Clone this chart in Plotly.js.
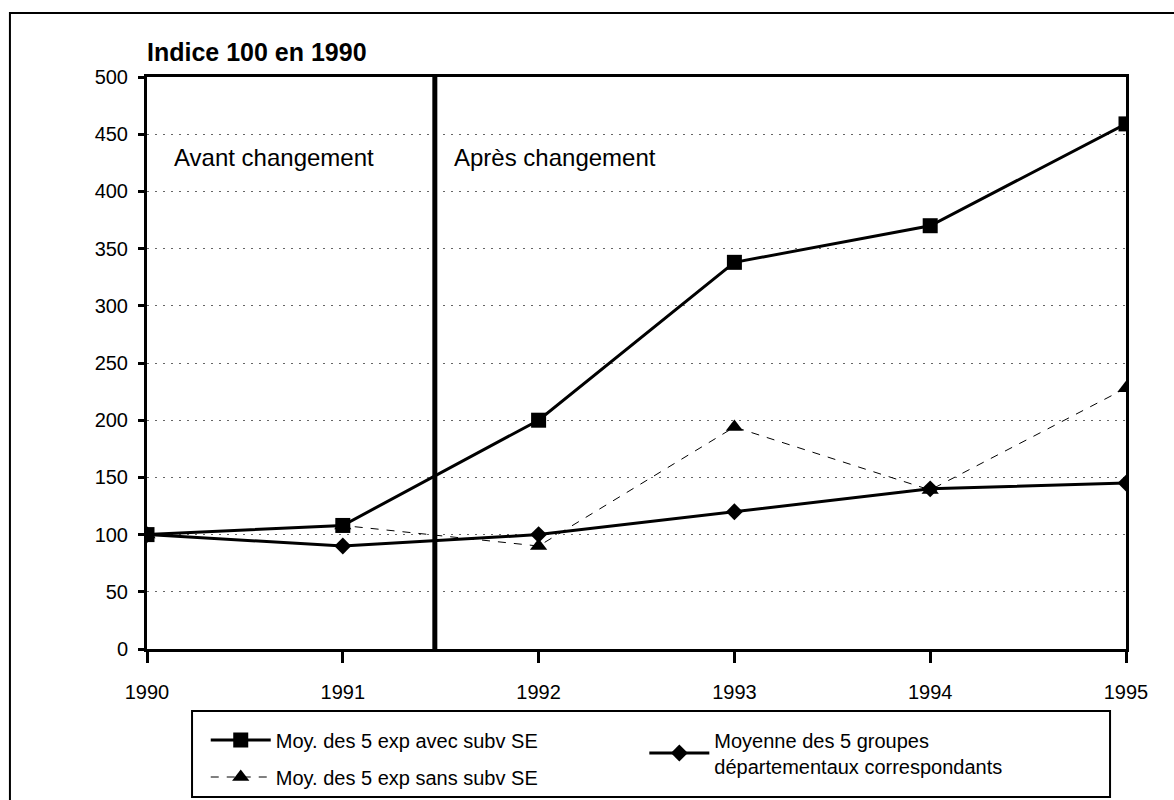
<!DOCTYPE html>
<html>
<head>
<meta charset="utf-8">
<script src="https://cdn.plot.ly/plotly-3.0.1.min.js"></script>
<style>html,body{margin:0;padding:0;background:#fff;}#chart{width:1174px;height:800px;}</style>
</head>
<body>
<div id="chart"></div>
<script>
const years = [1990, 1991, 1992, 1993, 1994, 1995];
const avecSubv = [100, 108, 200, 338, 370, 459];
const sansSubv = [100, 108, 90, 194, 139, 228];
const groupes = [100, 90, 100, 120, 140, 145];
const yTicks = [0, 50, 100, 150, 200, 250, 300, 350, 400, 450, 500];
const changementYear = 1991.47;
const labelAvec = "Moy. des 5 exp avec subv SE";
const labelSans = "Moy. des 5 exp sans subv SE";
const labelGroupes = "Moyenne des 5 groupes<br>départementaux correspondants";
const titleText = "Indice 100 en 1990";
const avantText = "Avant changement";
const apresText = "Après changement";

const FONT = "Liberation Sans, Arial, sans-serif";

const traces = [
  {
    x: years, y: sansSubv, name: labelSans, mode: "lines+markers", legend: "legend",
    legendgroup: "b", legendrank: 2,
    line: {color: "#000", width: 1, dash: "8px,8px"},
    marker: {symbol: "triangle-up", size: 15, color: "#000"}
  },
  {
    x: years, y: groupes, name: labelGroupes, mode: "lines+markers", legend: "legend2",
    line: {color: "#000", width: 3},
    marker: {symbol: "diamond", size: 13, color: "#000"}
  },
  {
    x: years, y: avecSubv, name: labelAvec, mode: "lines+markers", legend: "legend",
    legendgroup: "a", legendrank: 1,
    line: {color: "#000", width: 3},
    marker: {symbol: "square", size: 15, color: "#000"}
  }
];

const layout = {
  width: 1174, height: 800,
  margin: {l: 147, r: 48, t: 77, b: 151, autoexpand: false},
  paper_bgcolor: "#fff", plot_bgcolor: "#fff",
  font: {family: FONT, color: "#000", size: 20},
  showlegend: true,
  title: {
    text: "<b>" + titleText + "</b>",
    font: {family: FONT, size: 25, color: "#000"},
    xref: "paper", x: 0, xanchor: "left",
    yref: "container", y: 1 - 52/800, yanchor: "middle"
  },
  xaxis: {
    range: [1990, 1995], tickvals: years, ticktext: years.map(String),
    showgrid: false, zeroline: false,
    showline: true, linecolor: "#000", linewidth: 3, mirror: true,
    ticks: "outside", ticklen: 11, tickwidth: 3, tickcolor: "#000",
    ticklabelstandoff: 12,
    tickfont: {family: FONT, size: 20, color: "#000"}
  },
  yaxis: {
    range: [0, 500], tickvals: yTicks,
    showgrid: true, gridcolor: "#666", gridwidth: 1, griddash: "2px,6px",
    zeroline: false,
    showline: true, linecolor: "#000", linewidth: 3, mirror: true,
    ticks: "outside", ticklen: 6, tickwidth: 3, tickcolor: "#000",
    ticklabelstandoff: 6,
    tickfont: {family: FONT, size: 20, color: "#000"}
  },
  legend: {
    x: 0.06, xanchor: "left", y: -0.125, yanchor: "top",
    orientation: "v", tracegroupgap: 8, traceorder: "grouped",
    bgcolor: "rgba(0,0,0,0)", borderwidth: 0, itemwidth: 60,
    font: {family: FONT, size: 20, color: "#000"}
  },
  legend2: {
    x: 0.508, xanchor: "left", y: -0.125, yanchor: "top",
    bgcolor: "rgba(0,0,0,0)", borderwidth: 0, itemwidth: 60,
    font: {family: FONT, size: 20, color: "#000"}
  },
  shapes: [
    {type: "line", xref: "x", yref: "y", x0: changementYear, x1: changementYear, y0: 0, y1: 500,
     line: {color: "#000", width: 5}, layer: "above"},
    {type: "rect", xref: "paper", yref: "paper", x0: 0.046, x1: 0.9837, y0: -0.2587, y1: -0.1084,
     line: {color: "#000", width: 2}},
    {type: "rect", xref: "paper", yref: "paper", x0: -0.140, x1: 1.06, y0: -0.3, y1: 1.112,
     line: {color: "#000", width: 2}}
  ],
  annotations: [
    {text: avantText, xref: "x", yref: "y", x: 1990.13, y: 430, xanchor: "left", yanchor: "middle",
     showarrow: false, font: {family: FONT, size: 24, color: "#000"}},
    {text: apresText, xref: "x", yref: "y", x: 1991.56, y: 430, xanchor: "left", yanchor: "middle",
     showarrow: false, font: {family: FONT, size: 24, color: "#000"}}
  ]
};

Plotly.newPlot("chart", traces, layout, {displayModeBar: false, staticPlot: true});
</script>
</body>
</html>
